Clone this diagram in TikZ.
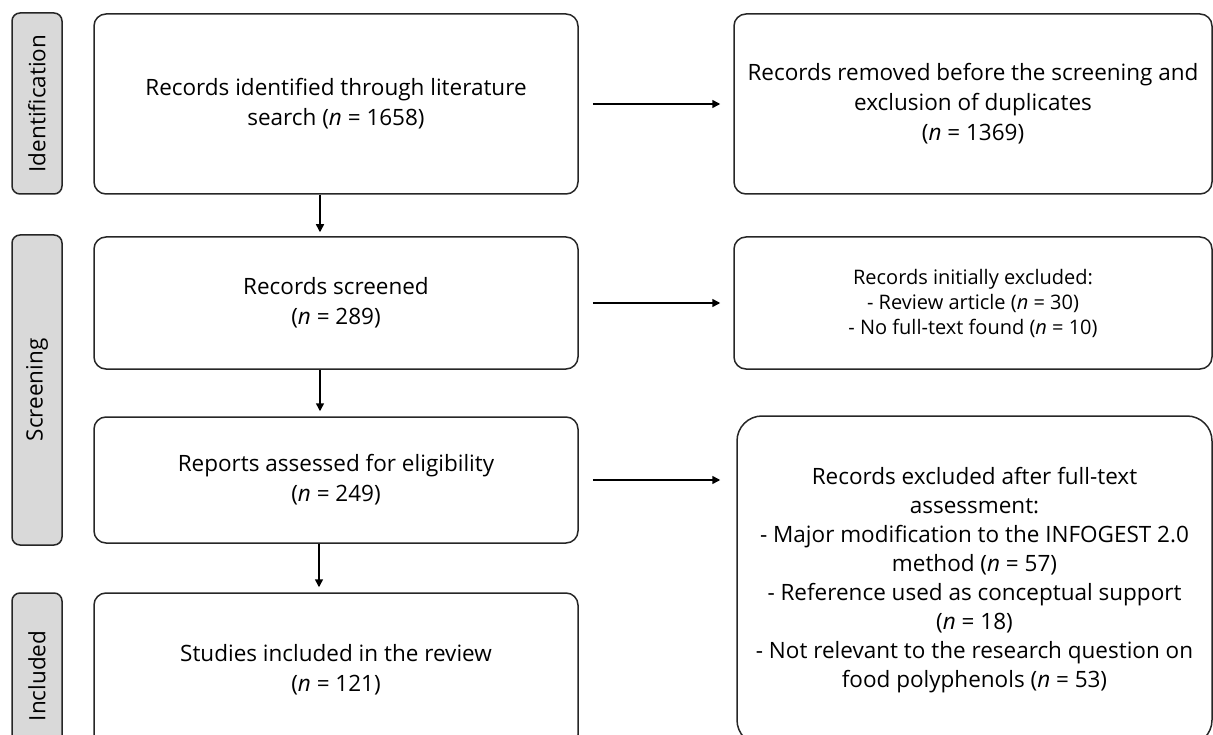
\documentclass[tikz,border=0pt]{standalone}
\usepackage{fontspec}
\setmainfont{Open Sans}
\usetikzlibrary{arrows.meta}

\begin{document}
\begin{tikzpicture}[x=1pt, y=-1pt, >={Triangle[length=8pt,width=8pt]},
  font=\fontsize{22.5}{30}\selectfont,
  box/.style={draw=black!85, line width=1.5pt, rounded corners=12pt, align=center, inner sep=0pt},
  phase/.style={draw=black!85, line width=1.5pt, fill=black!15, rounded corners=8pt, rotate=90, minimum height=50pt, inner sep=0pt},
  drop/.style={execute at begin node={\rule{0pt}{#1}}},
  flow/.style={->, line width=1.5pt}]
 \useasboundingbox (0,0) rectangle (1213,735);

 \node (idbar) [phase, minimum width=181pt] at (37,103.5) {Identification};
 \node (scrbar) [phase, minimum width=310pt] at (37,390) {Screening};
 \node (incbar) [phase, minimum width=166pt] at (37,676) {Included};

 \node (found) [box, drop=22pt, minimum width=484pt, minimum height=180pt] at (336,104)
   {Records identified through literature\\search (\textit{n} = 1658)};
 \node (removed) [box, drop=23pt, minimum width=478pt, minimum height=180pt] at (973,104)
   {Records removed before the screening and\\exclusion of duplicates\\(\textit{n} = 1369)};
 \node (screened) [box, drop=22pt, minimum width=484pt, minimum height=132pt] at (336,303)
   {Records screened\\(\textit{n} = 289)};
 \node (initexcl) [box, drop=19pt, minimum width=478pt, minimum height=132pt, font=\fontsize{20}{25}\selectfont] at (973,303)
   {Records initially excluded:\\- Review article (\textit{n} = 30)\\- No full-text found (\textit{n} = 10)};
 \node (reports) [box, minimum width=484pt, minimum height=126pt] at (336,480)
   {Reports assessed for eligibility\\(\textit{n} = 249)};
 \node (fullexcl) [box, rounded corners=25pt, minimum width=475pt, minimum height=329pt, font=\fontsize{22.5}{29}\selectfont] at (974.5,580.5)
   {Records excluded after full-text\\assessment:\\- Major modification to the INFOGEST 2.0\\method (\textit{n} = 57)\\- Reference used as conceptual support\\(\textit{n} = 18)\\- Not relevant to the research question on\\food polyphenols (\textit{n} = 53)};
 \node (included) [box, minimum width=484pt, minimum height=154pt] at (336,670)
   {Studies included in the review\\(\textit{n} = 121)};

 \path [flow, shorten <=14pt, shorten >=13pt] (found) edge (removed);
 \path [flow, shorten <=14pt, shorten >=13pt] (screened) edge (initexcl);
 \path [flow, shorten <=14pt, shorten >=16pt] (reports.east) edge (reports.east -| fullexcl.west);
 \path [flow, shorten >=4pt] ([xshift=-16pt]found.south) edge ([xshift=-16pt]screened.north);
 \path [flow, shorten >=5pt] ([xshift=-16pt]screened.south) edge ([xshift=-16pt]reports.north);
 \path [flow, shorten >=5pt] ([xshift=-17pt]reports.south) edge ([xshift=-17pt]included.north);
\end{tikzpicture}
\end{document}
